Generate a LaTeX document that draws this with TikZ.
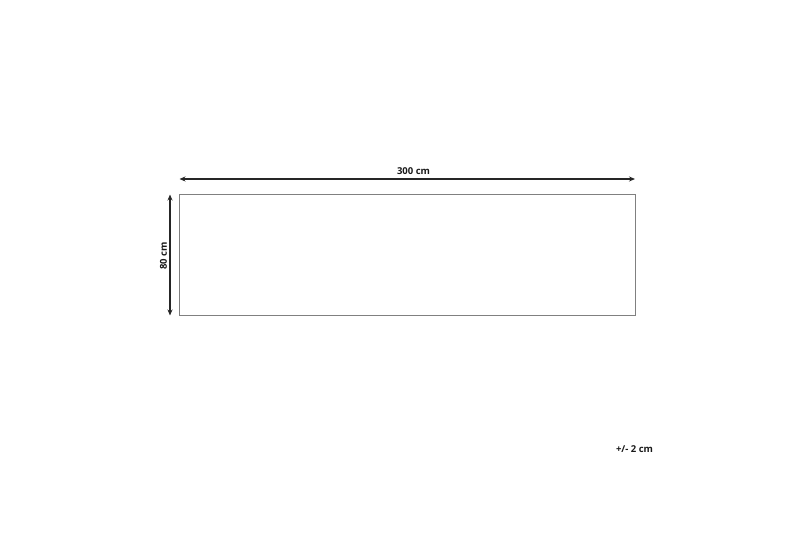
\documentclass[tikz,border=0pt]{standalone}
\usepackage{fontspec}
\setmainfont{Open Sans}
\usetikzlibrary{arrows.meta}
\begin{document}
\begin{tikzpicture}[x=1bp,y=-1bp,
  dimarrow/.style={draw=black!85,line width=1.3bp,{Stealth[length=6bp,width=5bp]}-{Stealth[length=6bp,width=5bp]}},
  dimlabel/.style={font=\fontsize{9.5bp}{11bp}\selectfont\bfseries,text=black!90,inner sep=0pt},
  carpet/.style={draw=black!50,line width=0.9bp}]
\useasboundingbox (0,0) rectangle (800,533);
\node[carpet,minimum width=456bp,minimum height=121.5bp,inner sep=0pt] (rug) at (407.3,255) {};
\coordinate (tl) at (179.5,179);
\coordinate (tr) at (635,179);
\coordinate (lt) at (170,194.5);
\coordinate (lb) at (170,315.5);
\draw[dimarrow] (tl) -- (tr);
\draw[dimarrow] (lt) -- (lb);
\node[dimlabel] (w) at (413.5,171) {300 cm};
\node[dimlabel,rotate=90] (h) at (163.5,256) {80 cm};
\node[dimlabel] (tol) at (634.5,449.5) {+/- 2 cm};
\end{tikzpicture}
\end{document}
